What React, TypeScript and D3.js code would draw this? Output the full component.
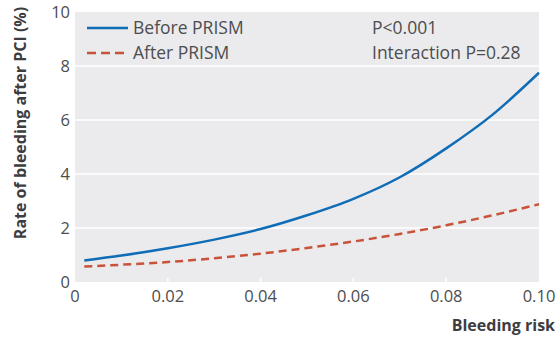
import * as d3 from "d3";
import { useEffect, useRef } from "react";

const riskX = [0.002, 0.01, 0.02, 0.03, 0.04, 0.05, 0.06, 0.07, 0.08, 0.09, 0.1];
const beforePrism = [0.8, 0.98, 1.25, 1.57, 1.96, 2.47, 3.08, 3.88, 4.95, 6.2, 7.75];
const afterPrism = [0.57, 0.64, 0.74, 0.88, 1.05, 1.26, 1.5, 1.78, 2.1, 2.47, 2.88];
const xTicks = [0, 0.02, 0.04, 0.06, 0.08, 0.1];
const yTicks = [0, 2, 4, 6, 8, 10];
const seriesNames = ["Before PRISM", "After PRISM"];
const annotations = ["P<0.001", "Interaction P=0.28"];

export default function App() {
  const ref = useRef<SVGSVGElement>(null);

  useEffect(() => {
    const svg = d3.select(ref.current);
    svg.selectAll("*").remove();
    const W = 558, H = 342;
    const m = { top: 12, right: 19, bottom: 60, left: 75 };
    const font = "'Open Sans', sans-serif";
    const txt = "#4d4d4f";

    const x = d3.scaleLinear().domain([0, 0.1]).range([m.left, W - m.right]);
    const y = d3.scaleLinear().domain([0, 10]).range([H - m.bottom, m.top]);

    svg.append("rect")
      .attr("x", m.left).attr("y", m.top)
      .attr("width", x(0.1) - x(0)).attr("height", y(0) - y(10))
      .attr("fill", "#ebebed");

    // gridlines
    svg.append("g").selectAll("line")
      .data(yTicks.filter(t => t > 0 && t < 10))
      .enter().append("line")
      .attr("x1", x(0)).attr("x2", x(0.1))
      .attr("y1", d => y(d)).attr("y2", d => y(d))
      .attr("stroke", "#fff").attr("stroke-width", 1.5);

    // small tick marks inside bottom
    svg.append("g").selectAll("line")
      .data(xTicks.filter(t => t > 0 && t < 0.1))
      .enter().append("line")
      .attr("x1", d => x(d)).attr("x2", d => x(d))
      .attr("y1", y(0)).attr("y2", y(0) - 4)
      .attr("stroke", "#fff").attr("stroke-width", 1.5);

    // y tick labels
    svg.append("g").selectAll("text")
      .data(yTicks).enter().append("text")
      .attr("x", m.left - 5).attr("y", d => y(d) + 6)
      .attr("text-anchor", "end")
      .attr("font-family", font).attr("font-size", 16.5).attr("fill", txt)
      .text(d => d);

    // x tick labels
    svg.append("g").selectAll("text")
      .data(xTicks).enter().append("text")
      .attr("x", d => x(d)).attr("y", y(0) + 20)
      .attr("text-anchor", "middle")
      .attr("font-family", font).attr("font-size", 16.5).attr("fill", txt)
      .text(d => (d === 0 ? "0" : d3.format(".2f")(d)));

    svg.append("text")
      .attr("x", W - 3).attr("y", 331)
      .attr("text-anchor", "end")
      .attr("font-family", font).attr("font-size", 16).attr("font-weight", "bold")
      .attr("fill", "#3d3d3f")
      .text("Bleeding risk");

    svg.append("text")
      .attr("transform", `translate(26,${123}) rotate(-90)`)
      .attr("text-anchor", "middle")
      .attr("font-family", font).attr("font-size", 16).attr("font-weight", "bold")
      .attr("fill", "#3d3d3f")
      .text("Rate of bleeding after PCI (%)");

    const line = d3.line<number>()
      .x((d, i) => x(riskX[i]))
      .y(d => y(d))
      .curve(d3.curveMonotoneX);

    const colors = ["#0f6cb6", "#c8523a"];
    const dashes = [null, "8,5"];
    [beforePrism, afterPrism].forEach((s, i) => {
      svg.append("path")
        .attr("d", line(s))
        .attr("fill", "none")
        .attr("stroke", colors[i])
        .attr("stroke-width", 2.5)
        .attr("stroke-dasharray", dashes[i]);
    });

    // legend
    seriesNames.forEach((n, i) => {
      const ly = 28 + i * 25;
      svg.append("line")
        .attr("x1", 87).attr("x2", 128).attr("y1", ly).attr("y2", ly)
        .attr("stroke", colors[i]).attr("stroke-width", 2.5)
        .attr("stroke-dasharray", dashes[i] ? "9,5" : null);
      svg.append("text")
        .attr("x", 133).attr("y", ly + 6)
        .attr("font-family", font).attr("font-size", 17.5).attr("fill", txt)
        .text(n);
    });

    annotations.forEach((a, i) => {
      svg.append("text")
        .attr("x", 372).attr("y", 34 + i * 25)
        .attr("font-family", font).attr("font-size", 17.5).attr("fill", txt)
        .text(a);
    });
  }, []);

  return (
    <svg ref={ref} width={558} height={342}
      style={{ position: "absolute", left: 0, top: 0 }} />
  );
}
